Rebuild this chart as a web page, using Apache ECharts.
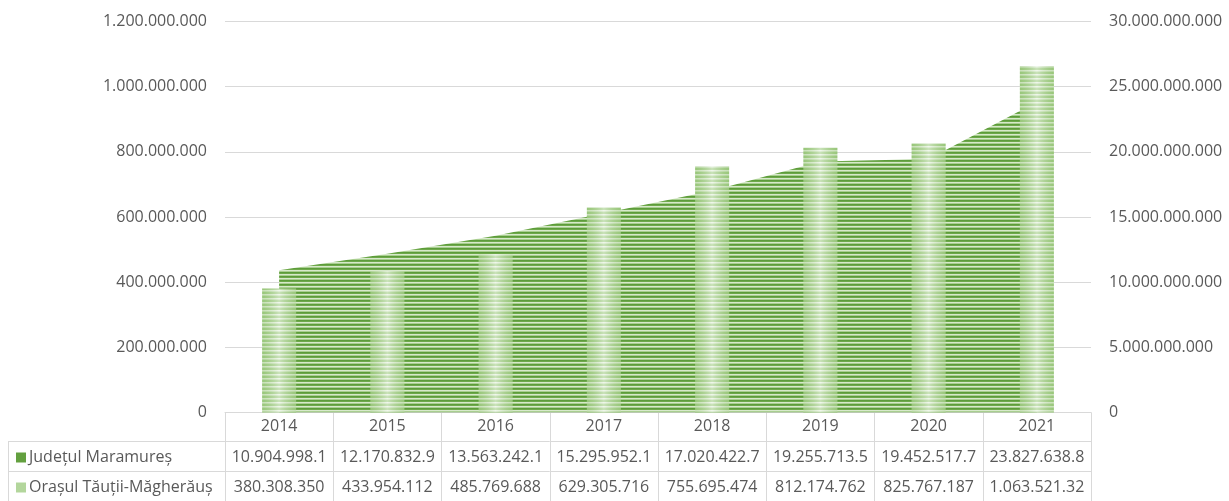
<!DOCTYPE html>
<html>
<head>
<meta charset="utf-8">
<script src="https://cdn.jsdelivr.net/npm/echarts@6/dist/echarts.min.js"></script>
<style>
  html, body { margin: 0; padding: 0; background: #fff; }
  #chart { width: 1229px; height: 501px; }
</style>
</head>
<body>
<div id="chart"></div>
<script>
// date
const years = ['2014', '2015', '2016', '2017', '2018', '2019', '2020', '2021']
const judetName = 'Județul Maramureș'
const judetValues = [10904998100, 12170832900, 13563242100, 15295952100, 17020422700, 19255713500, 19452517700, 23827638800]
const orasName = 'Orașul Tăuții-Măgherăuș'
const orasValues = [380308350, 433954112, 485769688, 629305716, 755695474, 812174762, 825767187, 1063521320]
const leftAxisTicks = [0, 200000000, 400000000, 600000000, 800000000, 1000000000, 1200000000]
const rightAxisTicks = [0, 5000000000, 10000000000, 15000000000, 20000000000, 25000000000, 30000000000]

const FONT = '"Open Sans", sans-serif'
const TXT = '#595959'
const LINE = '#d9d9d9'
const GRID_L = 225, GRID_R = 1091, GRID_T = 21.5, GRID_B = 412.5
const colW = (GRID_R - GRID_L) / years.length

// 1.200.000.000 style
const fmt = v => String(Math.round(v)).replace(/\B(?=(\d{3})+(?!\d))/g, '.')
// excel taie textul care nu incape in celula
const cellText = v => fmt(v).slice(0, 12)

// textura cu dungi orizontale
const stripes = (colors) => {
  const c = document.createElement('canvas')
  c.width = 4
  c.height = colors.length
  const ctx = c.getContext('2d')
  colors.forEach((col, i) => { ctx.fillStyle = col; ctx.fillRect(0, i, 4, 1) })
  return { image: c, repeat: 'repeat' }
}
const areaPattern = stripes(['#5d9c3b', '#6ea94a', '#d7e9cb', '#a9cf90'])
const barPattern = stripes(['#a6cf8b', '#a6cf8b', '#e6f1df', '#c9e2b9'])

// tabelul de date de sub grafic
const tableGraphics = () => {
  const els = []
  const rowY = [441.5, 471.5]
  rowY.forEach(y => {
    els.push({ type: 'line', shape: { x1: 8, y1: y, x2: GRID_R, y2: y }, style: { stroke: LINE, lineWidth: 1 }, silent: true })
  })
  els.push({ type: 'line', shape: { x1: 8.5, y1: 441.5, x2: 8.5, y2: 501 }, style: { stroke: LINE, lineWidth: 1 }, silent: true })

  const rows = [
    { name: judetName, values: judetValues, key: '#63a03f', cy: 457.5 },
    { name: orasName, values: orasValues, key: '#b3d69c', cy: 487.5 }
  ]
  rows.forEach(r => {
    els.push({ type: 'rect', shape: { x: 16, y: r.cy - 5, width: 10, height: 10 }, style: { fill: r.key }, silent: true })
    els.push({ type: 'text', x: 29, y: r.cy, style: { text: r.name, font: '16px ' + FONT, fill: TXT, textAlign: 'left', textVerticalAlign: 'middle' }, silent: true })
    r.values.forEach((v, i) => {
      els.push({
        type: 'text',
        x: GRID_L + colW * (i + 0.5),
        y: r.cy,
        style: { text: cellText(v), font: '16px ' + FONT, fill: TXT, textAlign: 'center', textVerticalAlign: 'middle' },
        silent: true
      })
    })
  })
  return els
}

const chart = echarts.init(document.getElementById('chart'))
chart.setOption({
  animation: false,
  backgroundColor: '#fff',
  textStyle: { fontFamily: FONT },
  grid: { left: GRID_L, right: 1229 - GRID_R, top: GRID_T, bottom: 501 - GRID_B },
  xAxis: {
    type: 'category',
    data: years,
    boundaryGap: true,
    axisLine: { show: true, lineStyle: { color: LINE, width: 1 } },
    axisTick: { show: true, length: 89, lineStyle: { color: LINE, width: 1 } },
    axisLabel: { color: TXT, fontSize: 16, fontFamily: FONT, margin: 6 }
  },
  yAxis: [
    {
      type: 'value',
      min: leftAxisTicks[0],
      max: leftAxisTicks[leftAxisTicks.length - 1],
      interval: leftAxisTicks[1] - leftAxisTicks[0],
      axisLine: { show: false },
      axisTick: { show: false },
      axisLabel: { color: TXT, fontSize: 16, fontFamily: FONT, margin: 18, formatter: v => fmt(v) },
      splitLine: { show: true, lineStyle: { color: LINE, width: 1 } }
    },
    {
      type: 'value',
      position: 'right',
      min: rightAxisTicks[0],
      max: rightAxisTicks[rightAxisTicks.length - 1],
      interval: rightAxisTicks[1] - rightAxisTicks[0],
      axisLine: { show: false },
      axisTick: { show: false },
      axisLabel: { color: TXT, fontSize: 16, fontFamily: FONT, margin: 18, formatter: v => fmt(v) },
      splitLine: { show: false }
    }
  ],
  series: [
    {
      name: judetName,
      type: 'line',
      yAxisIndex: 1,
      data: judetValues,
      showSymbol: false,
      lineStyle: { width: 0 },
      areaStyle: { color: areaPattern, opacity: 1 },
      z: 1
    },
    {
      name: orasName,
      type: 'bar',
      yAxisIndex: 0,
      data: orasValues,
      barWidth: 34,
      itemStyle: { color: barPattern },
      z: 2
    },
    {
      // umbrire cilindrica peste bare
      name: orasName + ' shade',
      type: 'bar',
      yAxisIndex: 0,
      data: orasValues,
      barWidth: 34,
      barGap: '-100%',
      silent: true,
      itemStyle: {
        color: new echarts.graphic.LinearGradient(0, 0, 1, 0, [
          { offset: 0, color: 'rgba(112,173,71,0.25)' },
          { offset: 0.5, color: 'rgba(255,255,255,0.4)' },
          { offset: 1, color: 'rgba(112,173,71,0.25)' }
        ])
      },
      z: 3
    }
  ],
  graphic: tableGraphics()
})
</script>
</body>
</html>
